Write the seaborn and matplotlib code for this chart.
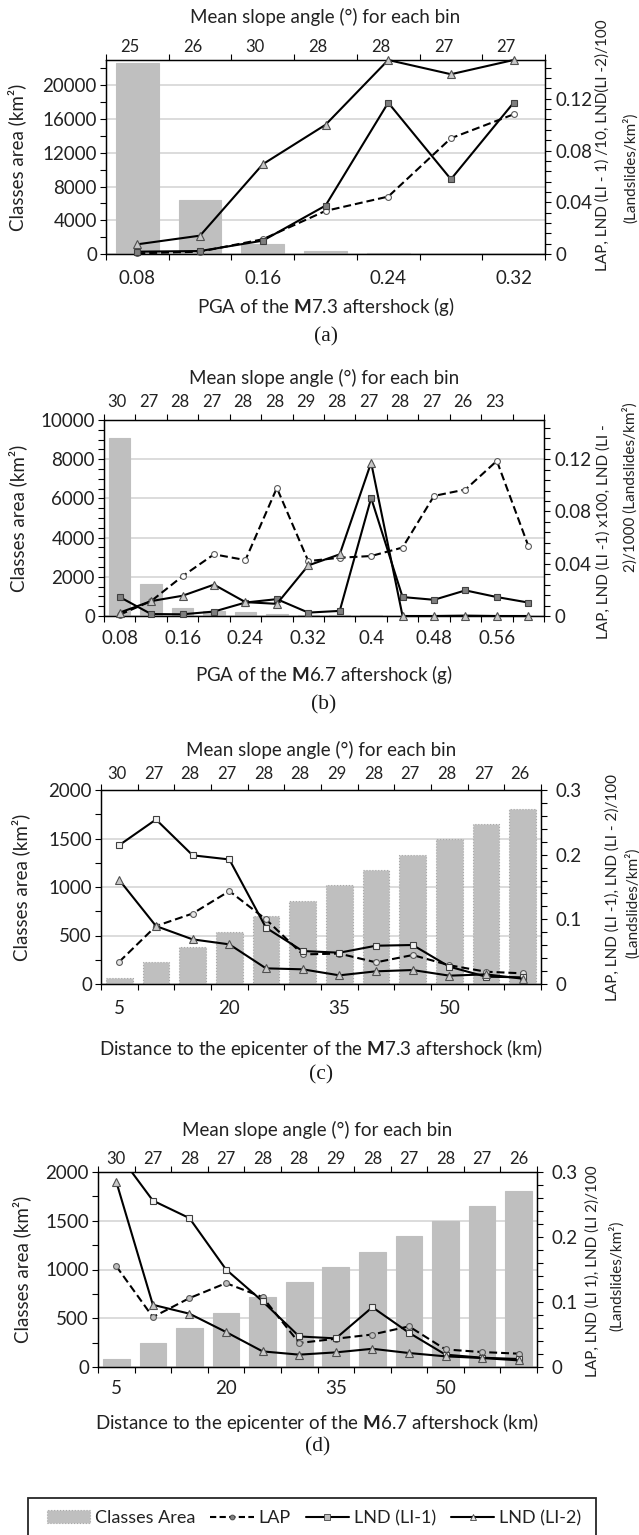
import numpy as np
import pandas as pd
import matplotlib
matplotlib.use("Agg")
import matplotlib.pyplot as plt
import seaborn as sns
from matplotlib.lines import Line2D
from matplotlib.patches import Patch, Rectangle
from matplotlib.ticker import MultipleLocator

sns.set_style("ticks")
plt.rcParams["font.family"] = ["Lato", "DejaVu Sans"]
plt.rcParams["mathtext.fontset"] = "custom"
plt.rcParams["mathtext.rm"] = "Lato"
plt.rcParams["mathtext.bf"] = "Lato:bold"

# ---------------- data ----------------
# (a) PGA of the M7.3 aftershock
pga73 = [0.08, 0.12, 0.16, 0.20, 0.24, 0.28, 0.32]
pga73_ticks = [0.08, 0.16, 0.24, 0.32]
slope_a = [25, 26, 30, 28, 28, 27, 27]
area_a = [22700, 6400, 1150, 400, 60, 40, 30]
lap_a = [0.0005, 0.0018, 0.0114, 0.0333, 0.0444, 0.0895, 0.108]
lnd1_a = [0.0018, 0.0023, 0.0103, 0.0374, 0.117, 0.0578, 0.117]
lnd2_a = [0.0075, 0.0142, 0.0694, 0.0999, 0.150, 0.139, 0.150]

# (b) PGA of the M6.7 aftershock
pga67 = [0.08, 0.12, 0.16, 0.20, 0.24, 0.28, 0.32, 0.36, 0.40, 0.44, 0.48, 0.52, 0.56, 0.60]
pga67_ticks = [0.08, 0.16, 0.24, 0.32, 0.40, 0.48, 0.56]
slope_b = [30, 27, 28, 27, 28, 28, 29, 28, 27, 28, 27, 26, 23]
area_b = [9100, 1650, 390, 250, 190, 80, 50, 40, 30, 20, 15, 10, 8, 5]
lap_b = [0.001, 0.0114, 0.0305, 0.0472, 0.0428, 0.098, 0.042, 0.0446, 0.0459, 0.0524, 0.0919, 0.0968, 0.1187, 0.0537]
lnd1_b = [0.0145, 0.0015, 0.0013, 0.0034, 0.0103, 0.0129, 0.0026, 0.0039, 0.0903, 0.0145, 0.0124, 0.0196, 0.0145, 0.0103]
lnd2_b = [0.0026, 0.0114, 0.0155, 0.024, 0.0106, 0.0093, 0.0387, 0.0472, 0.1174, 0.0, 0.0, 0.0003, 0.0, 0.0]

# (c) Distance to the epicenter of the M7.3 aftershock
dist = [5, 10, 15, 20, 25, 30, 35, 40, 45, 50, 55, 60]
dist_ticks = [5, 20, 35, 50]
slope_c = [30, 27, 28, 27, 28, 28, 29, 28, 27, 28, 27, 26]
area_c = [65, 230, 385, 540, 700, 860, 1020, 1175, 1330, 1495, 1646, 1804]
lap_c = [0.0345, 0.0896, 0.109, 0.1437, 0.0999, 0.0458, 0.047, 0.0335, 0.0448, 0.029, 0.019, 0.0165]
lnd1_c = [0.2148, 0.2544, 0.199, 0.1926, 0.087, 0.051, 0.0484, 0.0592, 0.0603, 0.0268, 0.0113, 0.0103]
lnd2_c = [0.1607, 0.0896, 0.069, 0.0613, 0.0242, 0.0227, 0.0134, 0.0196, 0.0216, 0.0129, 0.0149, 0.0082]

# (d) Distance to the epicenter of the M6.7 aftershock
slope_d = [30, 27, 28, 27, 28, 28, 29, 28, 27, 28, 27, 26]
area_d = [82, 242, 403, 553, 713, 870, 1024, 1184, 1341, 1498, 1652, 1809]
lap_d = [0.155, 0.0768, 0.106, 0.129, 0.1075, 0.0369, 0.0435, 0.050, 0.0625, 0.027, 0.023, 0.0205]
lnd1_d = [0.332, 0.256, 0.229, 0.150, 0.101, 0.047, 0.044, 0.092, 0.0527, 0.019, 0.0143, 0.0123]
lnd2_d = [0.285, 0.0957, 0.082, 0.0538, 0.024, 0.019, 0.0225, 0.028, 0.0215, 0.0164, 0.0138, 0.0102]

top_title = "Mean slope angle (\u00b0) for each bin"
left_label = "Classes area (km\u00b2)"
xlabels = ["PGA of the $\\mathbf{M}$7.3 aftershock (g)",
           "PGA of the $\\mathbf{M}$6.7 aftershock (g)",
           "Distance to the epicenter of the $\\mathbf{M}$7.3 aftershock (km)",
           "Distance to the epicenter of the $\\mathbf{M}$6.7 aftershock (km)"]
rlabels = [("LAP, LND (LI - 1) /10, LND(LI -2)/100", "(Landslides/km\u00b2)"),
           ("LAP, LND (LI -1) x100, LND (LI -", "2)/1000 (Landslides/km\u00b2)"),
           ("LAP, LND (LI -1), LND (LI - 2)/100", "(Landslides/km\u00b2)"),
           ("LAP, LND (LI 1), LND (LI 2)/100", "(Landslides/km\u00b2)")]
tags = ["(a)", "(b)", "(c)", "(d)"]
legend_labels = ["Classes Area", "LAP", "LND (LI-1)", "LND (LI-2)"]

# ---------------- styling / layout ----------------
W, H = 639, 1535
TXT = "#222222"
BAR = "#bfbfbf"
FS = 13.5

panels = [
    dict(cats=pga73, ticks=pga73_ticks, slope=slope_a, area=area_a, lap=lap_a, l1=lnd1_a, l2=lnd2_a,
         box=(106, 60, 545, 254), lmax=23000, lmaj=4000, lmin=2000, rmax=0.15, rmaj=0.04, rmin=0.008,
         bw=0.68, sqface="#7f7f7f", cface="#ffffff", bar_ls="-", clip=False, top_shift=-0.12,
         top_dy=13, title_dy=43, tick_pad=11.8, xl_dy=53, tag_dy=83, yl_x=17, rpad=3.0,
         r1=(603, 0.56), r2=(630, 0.443)),
    dict(cats=pga67, ticks=pga67_ticks, slope=slope_b, area=area_b, lap=lap_b, l1=lnd1_b, l2=lnd2_b,
         box=(104, 420, 544, 616), lmax=10000, lmaj=2000, lmin=500, rmax=0.15, rmaj=0.04, rmin=0.008,
         bw=0.68, sqface="#7f7f7f", cface="#ffffff", bar_ls="-", clip=False, top_shift=-0.08,
         top_dy=18, title_dy=42, tick_pad=10.3, xl_dy=59, tag_dy=89, yl_x=18, rpad=3.0,
         r1=(604, 0.43), r2=(630, 0.66)),
    dict(cats=dist, ticks=dist_ticks, slope=slope_c, area=area_c, lap=lap_c, l1=lnd1_c, l2=lnd2_c,
         box=(101, 790, 541, 984), lmax=2000, lmaj=500, lmin=250, rmax=0.3, rmaj=0.1, rmin=0.02,
         bw=0.72, sqface="#f2f2f2", cface="#e6e6e6", bar_ls=":", clip=True, top_shift=-0.07,
         top_dy=16, title_dy=40, tick_pad=11.8, xl_dy=64, tag_dy=91, yl_x=21, rpad=6.5,
         r1=(613, 0.495), r2=(632, 0.42)),
    dict(cats=dist, ticks=dist_ticks, slope=slope_d, area=area_d, lap=lap_d, l1=lnd1_d, l2=lnd2_d,
         box=(98, 1172, 537, 1367), lmax=2000, lmaj=500, lmin=250, rmax=0.3, rmaj=0.1, rmin=0.02,
         bw=0.73, sqface="#f2f2f2", cface="#bfbfbf", bar_ls="-", clip=True, top_shift=0.0,
         top_dy=13, title_dy=42, tick_pad=9.6, xl_dy=55, tag_dy=80, yl_x=22, rpad=6.5,
         r1=(593, 0.49), r2=(616, 0.47)),
]

fig = plt.figure(figsize=(W / 100, H / 100), dpi=100)


def px2pt(p):
    return p * 72 / 100


for i, P in enumerate(panels):
    l, t, r, b = P["box"]
    ax = fig.add_axes([l / W, (H - b) / H, (r - l) / W, (b - t) / H])
    hpx = b - t
    wpx = r - l
    n = len(P["cats"])
    x = np.arange(n)
    df = pd.DataFrame({"x": x, "area": P["area"], "lap": P["lap"], "l1": P["l1"], "l2": P["l2"]})

    sns.barplot(data=df, x="x", y="area", native_scale=True, width=P["bw"], color=BAR,
                saturation=1, ax=ax, edgecolor="#a8a8a8" if P["bar_ls"] == ":" else BAR,
                linewidth=0.8, linestyle=P["bar_ls"], zorder=2)

    ax.set_xlim(-0.5, n - 0.5)
    ax.set_ylim(0, P["lmax"])
    ax.set_xticks(np.arange(n + 1) - 0.5, labels=[""] * (n + 1))
    idx = [P["cats"].index(v) for v in P["ticks"]]
    ax.set_xticks(idx, labels=[f"{v:g}" for v in P["ticks"]], minor=True)
    ax.tick_params(axis="x", which="major", direction="out", length=4.3, width=0.8,
                   color="black", top=True, bottom=True, labelbottom=False)
    ax.tick_params(axis="x", which="minor", length=0, top=False, bottom=True,
                   pad=P["tick_pad"], labelsize=FS, labelcolor=TXT)
    yt = np.arange(0, P["lmax"] + 1, P["lmaj"])
    ax.set_yticks(yt, labels=[f"{int(v)}" for v in yt])
    ax.yaxis.set_minor_locator(MultipleLocator(P["lmin"]))
    ax.tick_params(axis="y", which="both", direction="out", length=4.3, width=0.8,
                   color="black", left=True, right=False, pad=2.2, labelsize=FS, labelcolor=TXT)
    ax.yaxis.grid(True, which="major", color="#d9d9d9", lw=1.3)
    ax.xaxis.grid(False)
    ax.set_axisbelow(True)
    ax.set_xlabel(xlabels[i], fontsize=FS, color=TXT)
    ax.xaxis.set_label_coords(0.5, -P["xl_dy"] / hpx)
    ax.xaxis.label.set_va("center")
    ax.set_ylabel(left_label, fontsize=FS, color=TXT)
    ax.yaxis.set_label_coords((P["yl_x"] - l) / wpx, 0.5)
    ax.yaxis.label.set_va("center")
    for s in ax.spines.values():
        s.set_color("black")
        s.set_linewidth(0.9)

    # secondary (right) axis with landslide indices
    ax2 = ax.twinx()
    sns.lineplot(data=df, x="x", y="lap", ax=ax2, color="black", lw=1.5,
                 linestyle=(0, (3.8, 1.9)), marker="o", ms=4.2, mfc=P["cface"], mec="#595959",
                 mew=0.8, clip_on=P["clip"], zorder=3)
    sns.lineplot(data=df, x="x", y="l1", ax=ax2, color="black", lw=1.5,
                 marker="s", ms=4.6, mfc=P["sqface"], mec="#404040", mew=0.8,
                 clip_on=P["clip"], zorder=4)
    sns.lineplot(data=df, x="x", y="l2", ax=ax2, color="black", lw=1.5,
                 marker="^", ms=5.6, mfc="#c8c8c8", mec="#505050", mew=0.8,
                 clip_on=P["clip"], zorder=5)
    ax2.set_xlim(-0.5, n - 0.5)
    ax2.set_ylim(0, P["rmax"])
    rt = np.arange(0, P["rmax"] + 1e-9, P["rmaj"])
    ax2.set_yticks(rt, labels=[f"{v:g}" for v in rt])
    ax2.yaxis.set_minor_locator(MultipleLocator(P["rmin"]))
    ax2.tick_params(axis="y", which="both", direction="out", length=4.3, width=0.8,
                    color="black", right=True, left=False, pad=P["rpad"], labelsize=FS, labelcolor=TXT)
    ax2.set_ylabel("")
    ax2.set_xlabel("")
    for s in ax2.spines.values():
        s.set_color("black")
        s.set_linewidth(0.9)

    # right axis label (two lines)
    for (xr, yf), txt in zip((P["r1"], P["r2"]), rlabels[i]):
        ax.text((xr - l) / wpx, yf, txt, transform=ax.transAxes, rotation=90,
                ha="center", va="center", fontsize=11.0, color=TXT)

    # top: mean slope per bin
    for k, s in enumerate(P["slope"]):
        ax.annotate(str(s), xy=(k + P["top_shift"], 1), xycoords=("data", "axes fraction"),
                    xytext=(0, px2pt(P["top_dy"])), textcoords="offset points",
                    ha="center", va="center", fontsize=12, color=TXT)
    ax.annotate(top_title, xy=(0.5, 1), xycoords="axes fraction",
                xytext=(0, px2pt(P["title_dy"])), textcoords="offset points",
                ha="center", va="center", fontsize=FS, color=TXT)
    # panel tag
    ax.text(0.5, -P["tag_dy"] / hpx, tags[i], transform=ax.transAxes, ha="center", va="center",
            fontsize=15.5, family="Liberation Serif", color="#1a1a1a")

# legend
handles = [
    Patch(facecolor=BAR, edgecolor="#a8a8a8", linestyle=":", linewidth=0.8),
    Line2D([], [], color="black", lw=1.5, linestyle=(0, (3.0, 1.6)), marker="o", ms=3.5,
           mfc="#7f7f7f", mec="#404040", mew=0.6),
    Line2D([], [], color="black", lw=1.5, marker="s", ms=4.0, mfc="#bfbfbf", mec="#404040", mew=0.6),
    Line2D([], [], color="black", lw=1.5, marker="^", ms=4.8, mfc="#e6e6e6", mec="#404040", mew=0.6),
]
fig.legend(handles, legend_labels, loc="center", bbox_to_anchor=(314 / W, (H - 1518) / H),
           ncol=4, frameon=False, handlelength=2.4, handletextpad=0.25, columnspacing=0.85,
           fontsize=13.0, labelcolor=TXT)
fig.add_artist(Rectangle((28 / W, -0.01), (596 - 28) / W, (H - 1498) / H + 0.01,
                         transform=fig.transFigure, fill=False, ec="#262626", lw=1.3))

fig.savefig("out.png", dpi=100)
